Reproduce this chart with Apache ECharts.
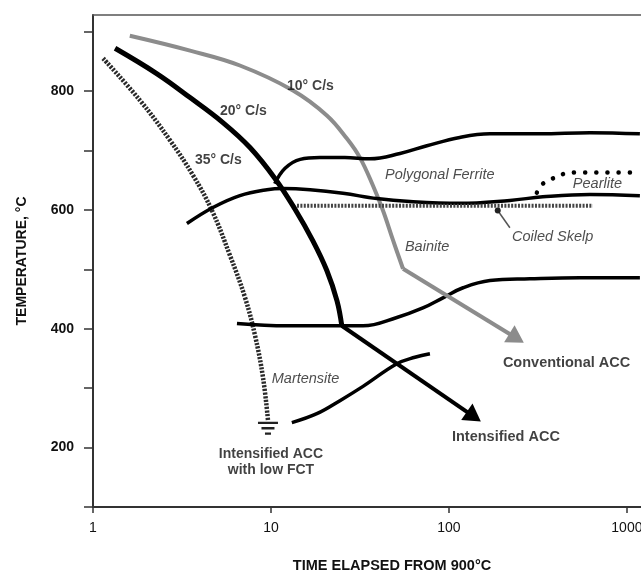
<!DOCTYPE html>
<html><head><meta charset="utf-8">
<script src="https://cdn.jsdelivr.net/npm/echarts@6/dist/echarts.min.js"></script>
<style>html,body{margin:0;padding:0;background:#fff}#c{width:641px;height:574px}</style>
</head><body><div id="c"></div>
<script>
// ---- tick labels ----
const xTicks = [1, 10, 100, 1000];
const yTicks = [200, 400, 600, 800];
const yMinorTicks = [100, 200, 300, 400, 500, 600, 700, 800, 900];

// ---- curves: [time (s), temperature (°C)] ----
const cool10 = [[1.61,893],[3.51,868],[6.69,843],[13.3,801],[20.6,759],[26.7,720],[31.6,688],[37.4,641],[42.6,599],[48.5,549],[55.2,501]];
const cool10Tail = [[55.2,501],[240,384]];
const cool20 = [[1.33,872],[2.29,829],[3.51,789],[5.37,747],[7.62,705],[10.53,653],[13.6,602],[17.2,548],[20.6,498],[23.5,447],[25.0,405]];
const cool20Tail = [[25.0,405],[138,252]];
const cool35 = [[1.14,855],[1.84,784],[2.71,717],[3.65,658],[4.66,599],[5.89,523],[7.14,453],[8.13,389],[9.02,318],[9.62,246]];
const ferriteUpper = [[10.5,644],[12.0,670],[14.6,685],[18.8,688],[26.0,688],[36.0,686],[53.1,695],[75.2,708],[115,722],[170,728],[324,728],[620,730],[1183,728]];
const ferriteLower = [[3.37,577],[4.72,604],[6.69,624],[9.49,634],[11.7,636],[16.6,634],[25.4,628],[39.4,619],[60.4,614],[115,611],[220,616],[337,622],[620,626],[1183,624]];
const pearlite = [[312,629],[337,644],[384,653],[448,661],[524,663],[1183,663]];
const bainite = [[6.44,409],[12.3,405],[23.5,405],[32.9,405],[51.0,419],[71.4,435],[92.5,452],[120,469],[170,481],[285,484],[545,486],[1183,486]];
const martensite = [[13.1,242],[18.1,257],[24.4,279],[32.9,303],[51.0,341],[64.4,352],[78.2,358]];
const coiledSkelp = [[14.0,607],[644,607]];
const skelpLeader = [[188,599],[220,570]];

// ---- annotation texts and anchors (data coords) ----
const rateNotes = [['10° C/s',[12.3,808]],['20° C/s',[5.17,767]],['35° C/s',[3.74,683]]];
const phaseNotes = [['Polygonal Ferrite',[43.7,659]],['Pearlite',[497,644]],['Bainite',[56.6,537]],['Coiled Skelp',[226,555]],['Martensite',[10.1,316]]];
const routeNotes = [['Conventional ACC',[201,343]],['Intensified ACC',[104,217]]];
const lowFctNote = ['Intensified ACC\nwith low FCT',[10,176]];

const FONT = "'Liberation Sans', Arial, sans-serif";
const chart = echarts.init(document.getElementById('c'), null, {renderer:'canvas'});

function curve(data, color, width, dash, extra){
  return Object.assign({
    type:'line', data, symbol:'none', showSymbol:false, smooth:0.4, silent:true, animation:false,
    lineStyle:{color, width, type: dash || 'solid', cap:'butt'}, z:3
  }, extra || {});
}
function arrowTail(tail, color, width){
  return {
    silent:true, animation:false, symbol:['none','triangle'], symbolSize:[20,17],
    itemStyle:{color}, lineStyle:{color, width, type:'solid'}, label:{show:false},
    data:[[{coord:tail[0]},{coord:tail[1]}]]
  };
}
function textSeries(notes, style, pos){
  return {
    type:'scatter', silent:true, animation:false, symbolSize:0, z:5,
    data: notes.map(n => ({value:n[1], label:{show:true, formatter:n[0]}})),
    label: Object.assign({show:true, position:pos||'right', distance:0, fontFamily:FONT, color:'#111'}, style)
  };
}

const option = {
  animation:false,
  backgroundColor:'#fff',
  grid:{left:93, right:0, top:15, bottom:67, outerBoundsMode:'none', containLabel:false},
  xAxis:[{
    type:'log', logBase:10, min:1, max:1200,
    name:'TIME ELAPSED FROM 900°C', nameLocation:'middle', nameGap:51,
    nameTextStyle:{fontFamily:FONT, fontWeight:'bold', fontSize:14.5, color:'#111', padding:[0,0,0,50]},
    axisLine:{show:true, lineStyle:{color:'#333', width:2}},
    axisTick:{show:true, inside:false, length:6, lineStyle:{color:'#333', width:1.5}, customValues:xTicks},
    axisLabel:{margin:14, fontFamily:FONT, fontSize:14, color:'#111', customValues:xTicks, formatter:v=>String(Math.round(v))},
    splitLine:{show:false}, minorTick:{show:false}
  },{
    type:'log', logBase:10, min:1, max:1200, position:'top',
    axisLine:{show:true, onZero:false, lineStyle:{color:'#555', width:1.5}},
    axisTick:{show:false}, axisLabel:{show:false}, splitLine:{show:false}
  }],
  yAxis:{
    type:'value', min:100, max:928, interval:100,
    name:'TEMPERATURE, °C', nameLocation:'middle', nameGap:64,
    nameTextStyle:{fontFamily:FONT, fontWeight:'bold', fontSize:14, color:'#111'},
    axisLine:{show:true, lineStyle:{color:'#333', width:2}},
    axisTick:{show:true, inside:false, length:9, lineStyle:{color:'#333', width:1.5}, customValues:yMinorTicks},
    axisLabel:{margin:19, fontFamily:FONT, fontSize:14, fontWeight:'bold', color:'#111', customValues:yTicks},
    splitLine:{show:false}
  },
  series:[
    curve(cool10, '#8c8c8c', 4, null, {markLine: arrowTail(cool10Tail, '#8c8c8c', 4)}),
    curve(cool20, '#000', 5, null, {markLine: arrowTail(cool20Tail, '#000', 4)}),
    curve(cool35, '#2a2a2a', 4.5, [2.2,1.4], {
      markPoint:{silent:true, animation:false, symbol:'path://M0,0h20v2.2h-20z M3.5,5h13v2.2h-13z M7,10h6v2.2h-6z',
        symbolSize:[20,13], symbolOffset:[0,8], itemStyle:{color:'#222'}, label:{show:false},
        data:[{coord:cool35[cool35.length-1]}]}
    }),
    curve(ferriteUpper, '#000', 3.5),
    curve(ferriteLower, '#000', 3.5),
    curve(bainite, '#000', 3.5),
    curve(martensite, '#000', 3.5),
    curve(coiledSkelp, '#444', 4, [2,1.4], {smooth:false}),
    curve(pearlite, '#000', 4.5, [0.1, 11], {lineStyle:{color:'#000', width:4.5, type:[0.1,11], cap:'round'}}),
    {
      type:'line', silent:true, animation:false, smooth:false, showSymbol:true, z:4,
      lineStyle:{color:'#555', width:1.5},
      data: skelpLeader.map((p,i)=>({value:p, symbol: i===0 ? 'circle' : 'none', symbolSize:6, itemStyle:{color:'#222'}}))
    },
    textSeries(rateNotes, {fontSize:14, fontWeight:'bold'}),
    textSeries(phaseNotes, {fontSize:14.5, fontStyle:'italic', color:'#222'}),
    textSeries(routeNotes, {fontSize:14.5, fontWeight:'bold'}),
    textSeries([lowFctNote], {fontSize:14, fontWeight:'bold', align:'center', lineHeight:16}, 'inside')
  ]
};
chart.setOption(option);
</script>
</body></html>
